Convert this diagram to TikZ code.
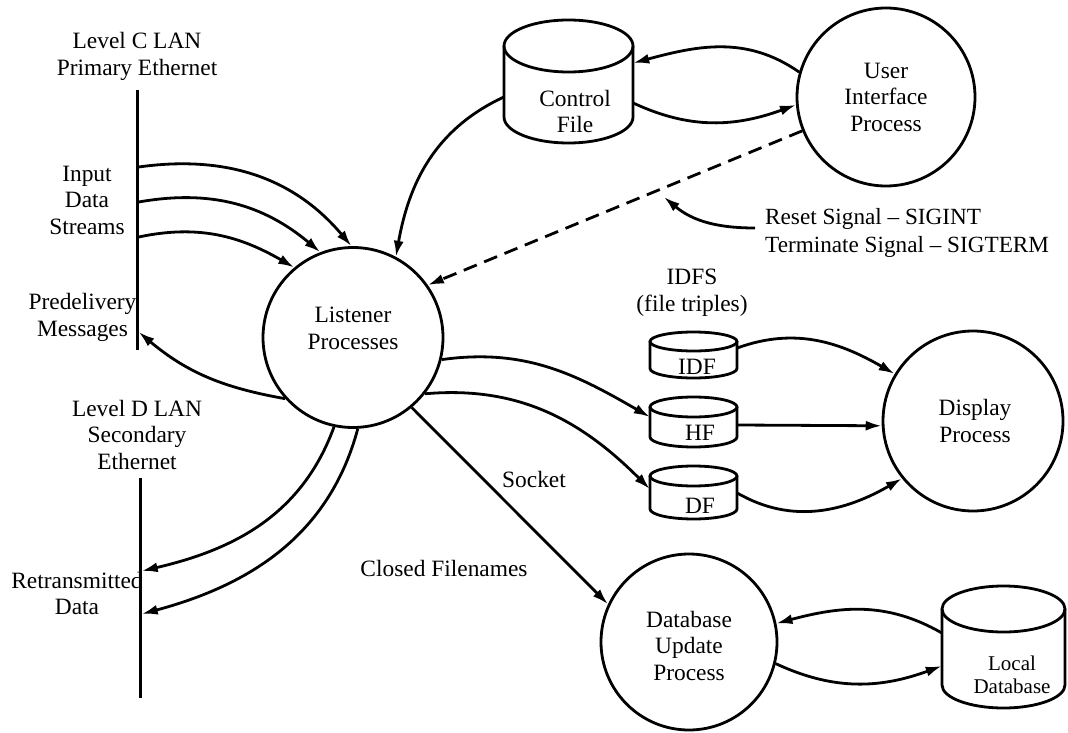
\documentclass[tikz,border=0pt]{standalone}
\usepackage{fontspec}
\setmainfont{Liberation Serif}
\usetikzlibrary{arrows.meta}
\tikzset{
  ln/.style={line width=2.8pt},
  arr/.style={ln, -{Latex[length=16pt,width=10pt]}},
  dashline/.style={dash pattern=on 14pt off 8pt},
  proc/.style={circle, draw, line width=2.8pt, inner sep=0pt},
  txt/.style={align=center, inner sep=0pt, font=\fontsize{23.4}{26.5}\selectfont},
  ltxt/.style={align=left, inner sep=0pt, font=\fontsize{23.2}{28}\selectfont},
  stxt/.style={align=center, inner sep=0pt, font=\fontsize{21}{23}\selectfont},
  eth/.style={fill=black, inner sep=0pt, minimum width=3pt}
}
% cylinder: name, left, right, top, bottom, ry (image coordinates, y downwards)
\newcommand\cylshape[6]{%
  \pgfmathsetmacro\cylcx{(#2+#3)/2}%
  \pgfmathsetmacro\cylax{(#3-#2)/2}%
  \pgfmathsetmacro\cylcy{-(#4+#5)/2}%
  \pgfmathsetmacro\cylt{-(#4+#6)}%
  \pgfmathsetmacro\cylb{-(#5-#6)}%
  \node[inner sep=0pt, minimum width={#3pt-#2pt}, minimum height={#5pt-#4pt}] (#1) at (\cylcx,\cylcy) {};
  \draw[ln] (\cylcx,\cylt) ellipse[x radius=\cylax, y radius=#6];
  \draw[ln] (#2,\cylt) -- (#2,\cylb) arc[start angle=180, end angle=360, x radius=\cylax, y radius=#6] -- (#3,\cylt);
}
\begin{document}
\begin{tikzpicture}[x=1pt,y=1pt]
\useasboundingbox (0,0) rectangle (1068,-733);

% Ethernet lines
\node[eth, minimum height=260pt] (ethC) at (137,-220) {};
\node[eth, minimum height=220pt] (ethD) at (140,-588) {};

% Processes
\node[proc, minimum size=180pt] (lst) at (353,-337.5) {};
\node[proc, minimum size=178pt] (uip) at (886,-97) {};
\node[proc, minimum size=180pt] (disp) at (973,-421) {};
\node[proc, minimum size=176pt] (dbu) at (689,-642) {};

\node[txt] at ([yshift=9pt]lst.center) {Listener\\Processes};
\node[txt] at (uip.center) {User\\Interface\\Process};
\node[txt] at ([xshift=2pt]disp.center) {Display\\Process};
\node[txt] at ([yshift=-3.5pt]dbu.center) {Database\\Update\\Process};

% Files
\cylshape{cf}{504}{633}{20}{143}{26}
\cylshape{idf}{650}{737}{332}{378}{9.5}
\cylshape{hf}{650}{737}{397}{447}{10}
\cylshape{df}{650}{737}{466}{519}{10}
\cylshape{ld}{942}{1065}{586}{708}{23}

\node[txt] at (575,-111.5) {Control\\File};
\node[txt] at (697,-367) {IDF};
\node[txt] at (700,-433) {HF};
\node[txt] at (700,-506) {DF};
\node[stxt] at (1012,-674.5) {Local\\Database};

% Labels
\node[txt] at (137,-56.5) {Level C LAN\\Primary Ethernet};
\node[txt] at (87,-200) {Input\\Data\\Streams};
\node[txt] at (82.5,-317.5) {Predelivery\\Messages};
\node[txt] at (137,-434.5) {Level D LAN\\Secondary\\Ethernet};
\node[txt] at (77,-593.5) {Retransmitted\\Data};
\node[txt] at (534,-479) {Socket};
\node[txt] at (444,-568) {Closed Filenames};
\node[txt] at (692,-292.5) {IDFS\\(file triples)};
\node[ltxt, anchor=west] (sig) at (765,-232.5) {Reset Signal \textendash{} SIGINT\\Terminate Signal \textendash{} SIGTERM};
\coordinate (sigtip) at (664,-197);

% Connectors
\draw[arr] ([yshift=53pt]ethC.east) to[out=8,in=130] (lst.91);
\draw[arr] ([yshift=18pt]ethC.east) to[out=10,in=140] (lst.111);
\draw[arr] ([yshift=-17pt]ethC.east) to[out=12,in=150] (lst.130);
\draw[arr] (lst.222) to[out=170,in=-40] ([yshift=-112pt]ethC.east);
\draw[arr] (lst.258) to[out=250,in=13] ([yshift=17pt]ethD.east);
\draw[arr] (lst.273) to[out=255,in=15] ([yshift=-26pt]ethD.east);
\draw[arr] ([yshift=-15.5pt]cf.west) to[out=205,in=80] (lst.62);
\draw[arr, dashline] (uip.202) -- (lst.35);
\draw[arr] (uip.164) to[out=145,in=15] ([yshift=18.5pt]cf.east);
\draw[arr] ([yshift=-21.5pt]cf.east) to[out=-25,in=200] (uip.185);
\draw[arr] ([xshift=-10pt,yshift=4.5pt]sig.west) to[out=180,in=-40] (sigtip);
\draw[arr] (lst.-14) to[out=8,in=150] ([yshift=5pt]hf.west);
\draw[arr] (lst.-38) to[out=5,in=135] ([yshift=3.5pt]df.west);
\draw[arr] (lst.-50) -- (dbu.155);
\draw[arr] ([yshift=7pt]idf.east) to[out=20,in=150] (disp.149);
\draw[arr] ([yshift=-3pt]hf.east) -- (disp.183);
\draw[arr] ([yshift=-0.5pt]df.east) to[out=-30,in=210] (disp.219);
\draw[arr] ([yshift=14pt]ld.west) to[out=150,in=15] (dbu.12);
\draw[arr] (dbu.-14) to[out=-25,in=200] ([yshift=-19pt]ld.west);
\end{tikzpicture}
\end{document}
